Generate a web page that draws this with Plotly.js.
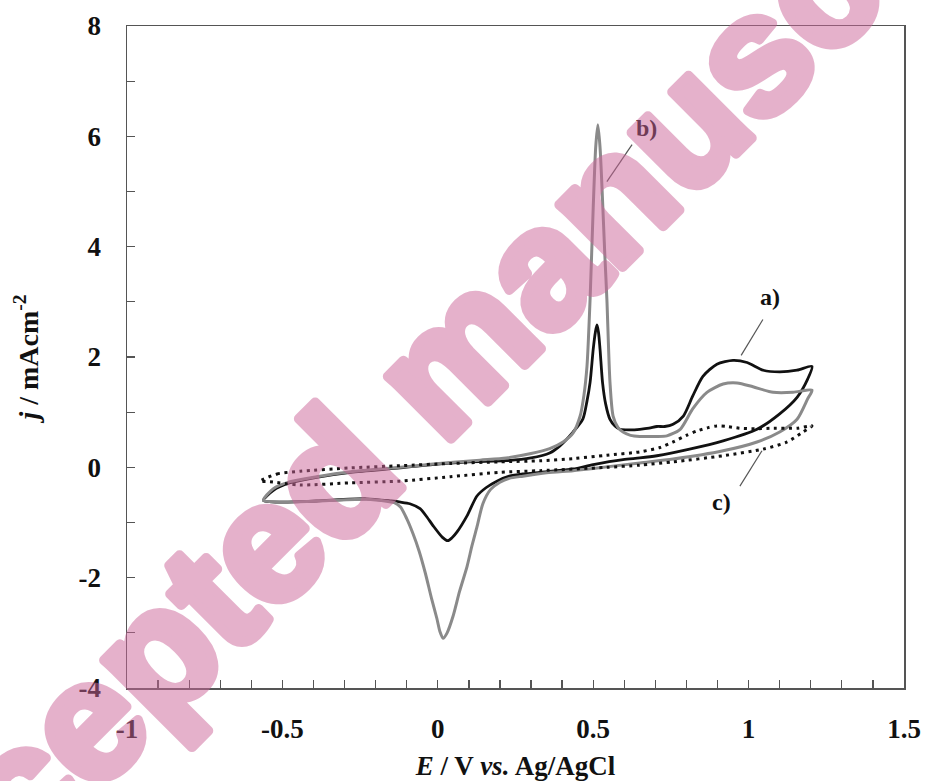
<!DOCTYPE html>
<html>
<head>
<meta charset="utf-8">
<script src="https://cdn.plot.ly/plotly-3.0.1.min.js"></script>
<style>
  html, body { margin: 0; padding: 0; background: #fff; }
  #chart { width: 925px; height: 781px; }
  .annotation[data-index="3"] .annotation-text {
    stroke: rgb(204,102,153); stroke-width: 10px; stroke-linejoin: round;
  }
</style>
</head>
<body>
<div id="chart"></div>
<script>
// ---- Data ----
// Curve a) black solid: forward (upper) branch then reverse (lower) branch
const aE = [-0.561, -0.53, -0.475, -0.39, -0.28, -0.12, 0.0, 0.1, 0.22, 0.30, 0.36, 0.393, 0.435, 0.467, 0.48, 0.49, 0.50, 0.507, 0.512, 0.517, 0.522, 0.53, 0.54, 0.554, 0.57, 0.586, 0.62, 0.65, 0.68, 0.705, 0.73, 0.757, 0.79, 0.82, 0.853, 0.898, 0.95, 0.995, 1.047, 1.10, 1.156, 1.204,
            1.19, 1.156, 1.10, 1.027, 0.918, 0.81, 0.705, 0.65, 0.596, 0.50, 0.435, 0.35, 0.274, 0.23, 0.19, 0.155, 0.126, 0.094, 0.062, 0.045, 0.032, 0.015, -0.015, -0.035, -0.057, -0.09, -0.12, -0.15, -0.23, -0.39, -0.50, -0.561];
const aJ = [-0.60, -0.42, -0.28, -0.18, -0.09, -0.01, 0.06, 0.10, 0.12, 0.17, 0.26, 0.39, 0.64, 0.88, 1.2, 1.54, 2.14, 2.45, 2.58, 2.45, 2.14, 1.54, 1.15, 0.87, 0.75, 0.69, 0.68, 0.69, 0.71, 0.74, 0.74, 0.78, 0.93, 1.29, 1.65, 1.87, 1.94, 1.90, 1.76, 1.73, 1.76, 1.83,
            1.60, 1.27, 0.97, 0.69, 0.48, 0.33, 0.21, 0.17, 0.14, 0.05, -0.03, -0.08, -0.12, -0.16, -0.25, -0.37, -0.52, -0.88, -1.17, -1.28, -1.33, -1.27, -1.06, -0.90, -0.75, -0.66, -0.63, -0.61, -0.57, -0.61, -0.63, -0.60];

// Curve b) grey solid
const bE = [-0.561, -0.53, -0.475, -0.39, -0.28, -0.12, -0.015, 0.136, 0.22, 0.30, 0.36, 0.403, 0.435, 0.458, 0.47, 0.48, 0.49, 0.50, 0.508, 0.515, 0.522, 0.53, 0.537, 0.544, 0.554, 0.564, 0.58, 0.596, 0.62, 0.65, 0.70, 0.737, 0.78, 0.82, 0.866, 0.918, 0.963, 1.014, 1.079, 1.143, 1.204,
            1.19, 1.156, 1.10, 1.027, 0.918, 0.757, 0.65, 0.50, 0.435, 0.35, 0.274, 0.23, 0.20, 0.17, 0.145, 0.126, 0.11, 0.094, 0.07, 0.049, 0.03, 0.017, 0.007, -0.003, -0.02, -0.04, -0.06, -0.08, -0.10, -0.12, -0.14, -0.16, -0.23, -0.39, -0.50, -0.561];
const bJ = [-0.60, -0.39, -0.26, -0.17, -0.08, 0.0, 0.06, 0.13, 0.17, 0.25, 0.34, 0.46, 0.62, 0.93, 1.3, 1.83, 3.05, 4.7, 5.8, 6.21, 5.8, 4.85, 3.9, 3.05, 1.54, 0.93, 0.72, 0.64, 0.58, 0.56, 0.56, 0.57, 0.69, 1.06, 1.36, 1.51, 1.53, 1.46, 1.36, 1.36, 1.40,
            1.24, 0.87, 0.64, 0.46, 0.30, 0.15, 0.08, -0.02, -0.06, -0.10, -0.16, -0.20, -0.27, -0.40, -0.66, -1.08, -1.42, -1.80, -2.25, -2.70, -3.00, -3.10, -2.98, -2.74, -2.38, -1.92, -1.52, -1.20, -0.93, -0.72, -0.64, -0.62, -0.58, -0.61, -0.63, -0.60];

// Curve c) black dotted
const cE = [-0.572, -0.517, -0.443, -0.28, -0.12, 0.04, 0.2, 0.33, 0.44, 0.544, 0.65, 0.715, 0.757, 0.8, 0.834, 0.87, 0.898, 0.93, 0.97, 1.02, 1.08, 1.156, 1.204,
            1.175, 1.124, 1.047, 0.918, 0.757, 0.65, 0.544, 0.33, 0.2, 0.04, -0.12, -0.28, -0.443, -0.54, -0.572];
const cJ = [-0.25, -0.12, -0.07, -0.01, 0.03, 0.07, 0.10, 0.12, 0.16, 0.22, 0.28, 0.36, 0.46, 0.58, 0.66, 0.72, 0.75, 0.74, 0.71, 0.70, 0.71, 0.71, 0.75,
            0.64, 0.46, 0.33, 0.21, 0.10, 0.04, 0.0, -0.06, -0.09, -0.17, -0.25, -0.28, -0.32, -0.26, -0.25];

// Tick labels
const xTickVals = [-1, -0.5, 0, 0.5, 1, 1.5];
const xTickText = ['-1', '-0.5', '0', '0.5', '1', '1.5'];
const yTickVals = [-4, -2, 0, 2, 4, 6, 8];
const yTickText = ['-4', '-2', '0', '2', '4', '6', '8'];

// Curve labels and leader lines (label position, line start, line end)
const labels = ['a)', 'b)', 'c)'];
const labelE = [1.069, 0.673, 0.914];
const labelJ = [3.08, 6.16, -0.63];
const leadE0 = [1.046, 0.625, 1.043];
const leadJ0 = [2.68, 5.85, 0.30];
const leadE1 = [0.976, 0.544, 0.972];
const leadJ1 = [2.03, 5.18, -0.34];

// ---- Plot ----
const serif = 'Liberation Serif, Times New Roman, serif';
const traces = [
  { x: aE, y: aJ, mode: 'lines', name: 'a)', line: { color: '#111111', width: 2.8, shape: 'spline', smoothing: 0.7 } },
  { x: bE, y: bJ, mode: 'lines', name: 'b)', line: { color: '#8a8a8a', width: 3, shape: 'spline', smoothing: 0.7 } },
  { x: cE, y: cJ, mode: 'lines', name: 'c)', line: { color: '#111111', width: 3, dash: '3px,4.5px', shape: 'spline', smoothing: 0.7 } }
];

const shapes = labels.map((_, i) => ({
  type: 'line', xref: 'x', yref: 'y',
  x0: leadE0[i], y0: leadJ0[i], x1: leadE1[i], y1: leadJ1[i],
  line: { color: '#555555', width: 1.2 }
}));

const annotations = labels.map((t, i) => ({
  x: labelE[i], y: labelJ[i], xref: 'x', yref: 'y', text: t, showarrow: false,
  font: { family: serif, size: 24, color: '#111', weight: 'bold' }
}));

annotations.push({
  xref: 'paper', yref: 'paper', x: 0.40, y: 0.48,
  text: 'Accepted manuscript', showarrow: false, textangle: -45, opacity: 0.5,
  font: { family: 'Liberation Sans, Arial, sans-serif', size: 168, weight: 'bold', color: 'rgb(204,102,153)' }
});

const axisCommon = {
  showline: true, linecolor: '#555555', linewidth: 1.5, mirror: true,
  ticks: 'inside', ticklen: 8, tickwidth: 1.3, tickcolor: '#555555',
  showgrid: false, zeroline: false,
  tickfont: { family: serif, size: 27, color: '#111', weight: 'bold' }
};

const layout = {
  width: 925, height: 781,
  margin: { l: 127, r: 21, t: 26, b: 93 },
  paper_bgcolor: '#ffffff', plot_bgcolor: '#ffffff',
  showlegend: false,
  xaxis: Object.assign({}, axisCommon, {
    range: [-1, 1.5], tickmode: 'array', tickvals: xTickVals, ticktext: xTickText,
    minor: { dtick: 0.1, ticks: 'inside', ticklen: 8, tickwidth: 1.3, tickcolor: '#555555', showgrid: false },
    ticklabelstandoff: 16,
    title: { text: '<i>E</i> / V <i>vs.</i> Ag/AgCl', standoff: 16, font: { family: serif, size: 27, color: '#111', weight: 'bold' } }
  }),
  yaxis: Object.assign({}, axisCommon, {
    range: [-4, 8], tickmode: 'array', tickvals: yTickVals, ticktext: yTickText,
    minor: { dtick: 1, ticks: 'inside', ticklen: 8, tickwidth: 1.3, tickcolor: '#555555', showgrid: false },
    ticklabelstandoff: 19,
    title: { text: '<i>j</i> / mAcm<sup>-2</sup>', standoff: 32, font: { family: serif, size: 28, color: '#111', weight: 'bold' } }
  }),
  shapes: shapes,
  annotations: annotations
};

Plotly.newPlot('chart', traces, layout, { displayModeBar: false, staticPlot: true });
</script>
</body>
</html>
